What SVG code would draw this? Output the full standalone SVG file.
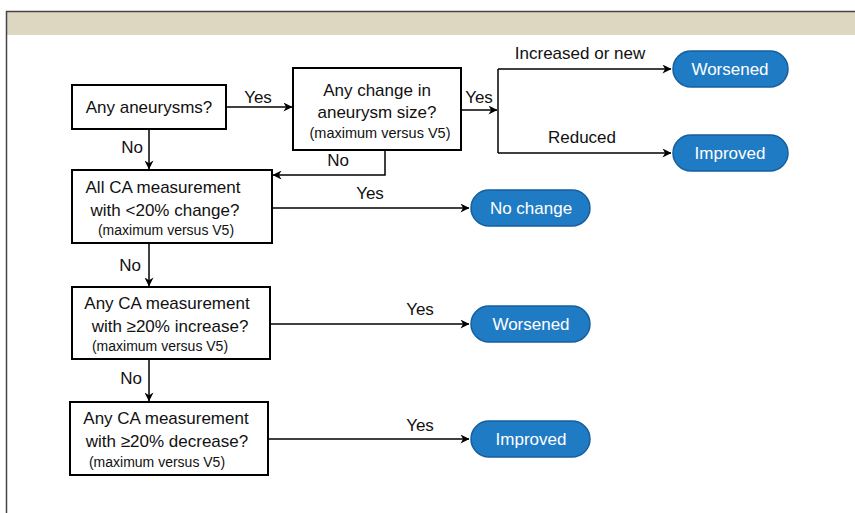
<svg xmlns="http://www.w3.org/2000/svg" width="855" height="513" viewBox="0 0 855 513">
<defs>
<marker id="ah" viewBox="0 0 10 10" refX="9.5" refY="5" markerWidth="9" markerHeight="9" markerUnits="userSpaceOnUse" orient="auto">
<path d="M0,0 L10,5 L0,10 L3,5 z" fill="#000"/>
</marker>
</defs>
<style>
.box{fill:#fff;stroke:#000;stroke-width:2}
.pill{fill:#1f7bc4;stroke:#165f9c;stroke-width:1.5}
.t{font-family:"Liberation Sans",Arial,sans-serif;font-size:17px;fill:#111;text-anchor:middle}
.s{font-family:"Liberation Sans",Arial,sans-serif;font-size:14px;fill:#111;text-anchor:middle}
.pt{font-family:"Liberation Sans",Arial,sans-serif;font-size:17px;fill:#fff;text-anchor:middle}
.c{fill:none;stroke:#000;stroke-width:1.5}
</style>
<rect x="0" y="0" width="855" height="513" fill="#fff"/>
<rect x="7" y="12" width="848" height="23" fill="#ddd6c1"/>
<path d="M6.5,513 V11.5 H855" fill="none" stroke="#444" stroke-width="1.5"/>

<g id="connectors">
<path class="c" d="M226,107 H292" marker-end="url(#ah)"/>
<path class="c" d="M461,110 H497" marker-end="url(#ah)"/>
<path class="c" d="M498,69 V153"/>
<path class="c" d="M498,69 H671" marker-end="url(#ah)"/>
<path class="c" d="M498,153 H671" marker-end="url(#ah)"/>
<path class="c" d="M149,128 V169" marker-end="url(#ah)"/>
<path class="c" d="M385,150 V175 H273" marker-end="url(#ah)"/>
<path class="c" d="M272,208 H469" marker-end="url(#ah)"/>
<path class="c" d="M149,243 V286" marker-end="url(#ah)"/>
<path class="c" d="M270,324 H469" marker-end="url(#ah)"/>
<path class="c" d="M149,359 V401" marker-end="url(#ah)"/>
<path class="c" d="M268,439 H469" marker-end="url(#ah)"/>
<text class="t" x="258" y="103">Yes</text>
<text class="t" x="479" y="103">Yes</text>
<text class="t" x="580" y="59">Increased or new</text>
<text class="t" x="582" y="143">Reduced</text>
<text class="t" x="132" y="153">No</text>
<text class="t" x="338" y="166">No</text>
<text class="t" x="370" y="199">Yes</text>
<text class="t" x="130" y="271">No</text>
<text class="t" x="420" y="315">Yes</text>
<text class="t" x="131" y="384">No</text>
<text class="t" x="420" y="431">Yes</text>
</g>

<g id="q-aneurysms">
<rect class="box" x="72" y="85" width="154" height="44"/>
<text class="t" x="149" y="113">Any aneurysms?</text>
</g>
<g id="q-size">
<rect class="box" x="293" y="68" width="168" height="82"/>
<text class="t" x="377" y="96">Any change in</text>
<text class="t" x="377" y="118">aneurysm size?</text>
<text class="s" x="380" y="138" style="font-size:14.5px">(maximum versus V5)</text>
</g>
<g id="q-all">
<rect class="box" x="72" y="170" width="200" height="73"/>
<text class="t" x="163" y="193">All CA measurement</text>
<text class="t" x="165" y="216">with &lt;20% change?</text>
<text class="s" x="166" y="235">(maximum versus V5)</text>
</g>
<g id="q-increase">
<rect class="box" x="72" y="287" width="198" height="72"/>
<text class="t" x="167" y="309">Any CA measurement</text>
<text class="t" x="170" y="332">with ≥20% increase?</text>
<text class="s" x="160" y="351">(maximum versus V5)</text>
</g>
<g id="q-decrease">
<rect class="box" x="70" y="402" width="198" height="73"/>
<text class="t" x="166" y="424">Any CA measurement</text>
<text class="t" x="167" y="447">with ≥20% decrease?</text>
<text class="s" x="157" y="467">(maximum versus V5)</text>
</g>

<g id="r-worsened1">
<rect class="pill" x="673" y="51" width="115" height="36" rx="18"/>
<text class="pt" x="730" y="75">Worsened</text>
</g>
<g id="r-improved1">
<rect class="pill" x="673" y="135" width="115" height="36" rx="18"/>
<text class="pt" x="730" y="159">Improved</text>
</g>
<g id="r-nochange">
<rect class="pill" x="471" y="190" width="119" height="36" rx="18"/>
<text class="pt" x="531" y="214">No change</text>
</g>
<g id="r-worsened2">
<rect class="pill" x="471" y="306" width="119" height="36" rx="18"/>
<text class="pt" x="531" y="330">Worsened</text>
</g>
<g id="r-improved2">
<rect class="pill" x="471" y="421" width="119" height="36" rx="18"/>
<text class="pt" x="531" y="445">Improved</text>
</g>
</svg>
